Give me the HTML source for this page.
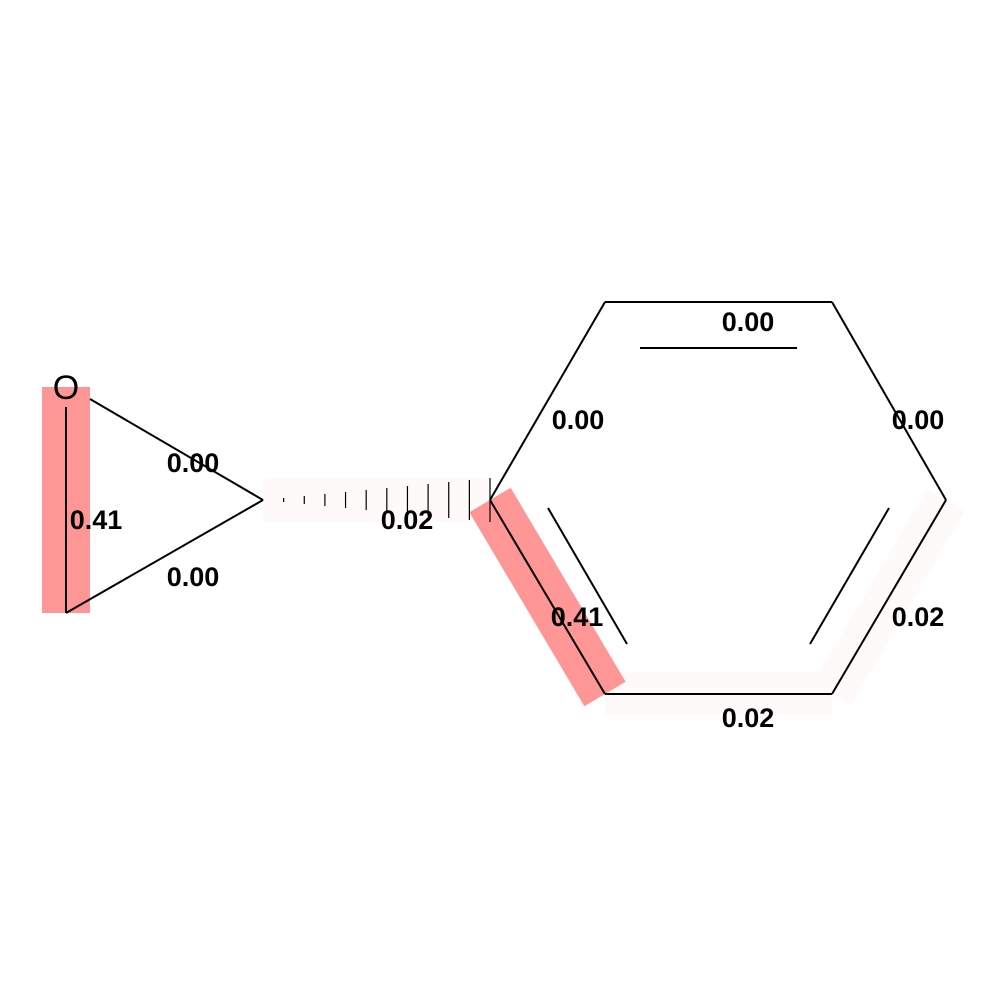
<!DOCTYPE html>
<html><head><meta charset="utf-8"><style>
html,body{margin:0;padding:0;background:#fff;}
svg{display:block;}
text{font-family:"Liberation Sans",sans-serif;}
</style></head><body>
<svg id="mol" width="1000" height="1000" viewBox="0 0 1000 1000" xmlns="http://www.w3.org/2000/svg">
<rect width="1000" height="1000" fill="#fff"/>
<g id="hl"></g>
<g id="bonds"></g>
<g id="labels"></g>
<text x="66" y="399" font-size="34" text-anchor="middle">O</text>
</svg>
<script>
const atomX = [66, 66, 263, 490, 605, 832, 946, 832, 605];
const atomY = [387, 613, 500, 500, 302, 302, 500, 694, 694];
const bondFrom = [0, 0, 1, 2, 3, 4, 5, 6, 7, 8];
const bondTo   = [1, 2, 2, 3, 4, 5, 6, 7, 8, 3];
const bondValues = [0.41, 0.00, 0.00, 0.02, 0.00, 0.00, 0.00, 0.02, 0.02, 0.41];
const labelX = [96, 193, 193, 407, 578, 748, 918, 918, 748, 577];
const labelY = [519, 462, 576, 519, 419, 321, 419, 616, 717, 616];
const NS = "http://www.w3.org/2000/svg";
const hl = document.getElementById('hl'), bg = document.getElementById('bonds'), lg = document.getElementById('labels');
function mk(tag, attrs, parent){const e=document.createElementNS(NS,tag);for(const k in attrs)e.setAttribute(k,attrs[k]);parent.appendChild(e);return e;}
function color(v){const t=Math.min(1,v/0.41);const g=Math.round(255-105*t);return `rgb(255,${g},${g})`;}
for(let i=0;i<bondFrom.length;i++){
  const v=bondValues[i];
  if(v<=0) continue;
  let x1=atomX[bondFrom[i]],y1=atomY[bondFrom[i]],x2=atomX[bondTo[i]],y2=atomY[bondTo[i]];
  const l=mk('line',{x1:x1,y1:y1,x2:x2,y2:y2,stroke:color(v),'stroke-width':v>0.1?48:44},hl);
  
  
}
function line(x1,y1,x2,y2,name){const l=mk('line',{x1,y1,x2,y2,stroke:'#000','stroke-width':2},bg);
  
  }
for(let i=0;i<bondFrom.length;i++){
  let x1=atomX[bondFrom[i]],y1=atomY[bondFrom[i]],x2=atomX[bondTo[i]],y2=atomY[bondTo[i]];
  if(i===3){
    const n=11;
    for(let k=1;k<=n;k++){const t=k/n;const x=x1+(x2-x1)*t;const h=22*t;
      const l=mk('line',{x1:x,y1:y1-h,x2:x,y2:y1+h,stroke:'#000','stroke-width':1.2},bg);
      
      }
    continue;
  }
  if(bondFrom[i]===0){const dx=x2-x1,dy=y2-y1,L=Math.hypot(dx,dy);x1+=dx/L*20;y1+=dy/L*20;if(i===1){x1=90;y1=399;}}
  line(x1,y1,x2,y2,'bond-'+i);
}
line(640,348,797,348,'inner-double-top');
line(548,508,627,644,'inner-double-left');
line(889,508,810,644,'inner-double-right');
for(let i=0;i<bondValues.length;i++){
  const t=mk('text',{x:labelX[i],y:labelY[i]+10,'font-size':27,'font-weight':'bold','text-anchor':'middle'},lg);
  t.textContent=bondValues[i].toFixed(2);
  
  
}
</script>
</body></html>
